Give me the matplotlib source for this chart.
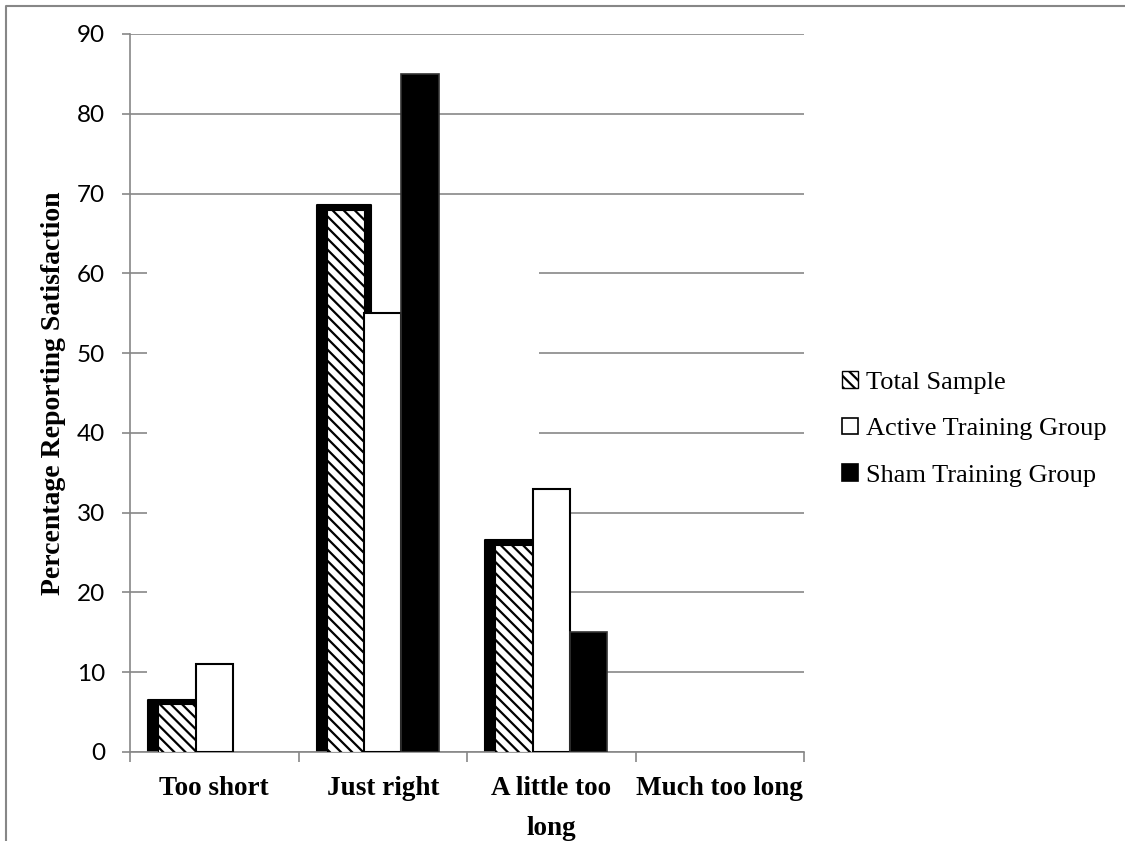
import numpy as np
import matplotlib
matplotlib.use("Agg")
import matplotlib.pyplot as plt
from matplotlib.patches import Patch, Rectangle
from matplotlib.lines import Line2D

# --- Data ---
categories = ["Too short", "Just right", "A little too\nlong", "Much too long"]
total_sample = [6, 68, 26, 0]
active_group = [11, 55, 33, 0]
sham_group = [0, 85, 15, 0]

GRID = "#878787"
plt.rcParams["hatch.linewidth"] = 1.6

fig = plt.figure(figsize=(11.25, 8.41), dpi=100)
ax = fig.add_axes([130 / 1125, 1 - 752 / 841, 674 / 1125, 718 / 841])

x = np.arange(len(categories))
w = 0.222

tot = np.array(total_sample, dtype=float)
act = np.array(active_group, dtype=float)
sham = np.array(sham_group, dtype=float)

# no outline for empty bars
def edge_widths(vals, lw):
    return [lw if v > 0 else 0 for v in vals]

# thick black outline behind the total sample bars
ax.bar(x - w - 0.01, np.where(tot > 0, tot + 0.55, 0), width=w + 0.1,
       color="black", linewidth=edge_widths(tot, 1.5), edgecolor="black",
       joinstyle="round", zorder=2)
ax.bar(x - w, tot, width=w, color="white", edgecolor="black", hatch="\\\\\\",
       linewidth=edge_widths(tot, 0.8), zorder=3)
ax.bar(x, act, width=w, color="white", edgecolor="black",
       linewidth=edge_widths(act, 1.5), zorder=4)
ax.bar(x + w, sham, width=w, color="black", edgecolor="#333333",
       linewidth=edge_widths(sham, 1.2), zorder=4)

# blank area over the lower gridlines on the left
ax.add_patch(Rectangle((-0.4, 0.3), 2.33, 64.7, facecolor="white", edgecolor="none", zorder=1.5))

ax.set_xlim(-0.5, 3.5)
ax.set_ylim(0, 90)
ax.set_yticks(np.arange(0, 91, 10))
ax.set_axisbelow(True)
ax.yaxis.grid(True, color=GRID, linewidth=1.2)

for s in ["top", "right"]:
    ax.spines[s].set_visible(False)
for s in ["left", "bottom"]:
    ax.spines[s].set_color(GRID)
    ax.spines[s].set_linewidth(1.2)

ax.tick_params(axis="y", direction="out", length=6, width=1.2, color=GRID, pad=12,
               labelsize=17.5)
for lbl in ax.get_yticklabels():
    lbl.set_fontfamily("Lato")

ax.set_xticks(x)
ax.set_xticklabels(categories, fontfamily="Liberation Serif", fontweight="bold",
                   fontsize=19.5, linespacing=1.8, va="top")
ax.tick_params(axis="x", length=0, pad=17)
ax.set_xticks(np.arange(-0.5, 4, 1), minor=True)
ax.tick_params(axis="x", which="minor", direction="out", length=7, width=1.2, color=GRID)

ax.set_ylabel("Percentage Reporting Satisfaction", fontfamily="Liberation Serif",
              fontweight="bold", fontsize=20)
ax.yaxis.set_label_coords(-0.095, 0.5)

# legend
handles = [
    Patch(facecolor="white", edgecolor="black", hatch="\\\\\\", linewidth=1.0),
    Patch(facecolor="white", edgecolor="black", linewidth=1.2),
    Patch(facecolor="black", edgecolor="black", linewidth=1.2),
]
fig.legend(handles, ["Total Sample", "Active Training Group", "Sham Training Group"],
           loc="center left", bbox_to_anchor=(818 / 1125, 1 - 429 / 841),
           frameon=False, prop={"family": "Liberation Serif", "size": 19},
           handlelength=0.6, handleheight=0.6, handletextpad=0.3, labelspacing=0.9)

# outer chart border
fig.add_artist(Line2D([6 / 1125, 6 / 1125, 1], [0, 1 - 6 / 841, 1 - 6 / 841],
                      transform=fig.transFigure, color=GRID, linewidth=1.5))

fig.savefig("out.png", dpi=100)
